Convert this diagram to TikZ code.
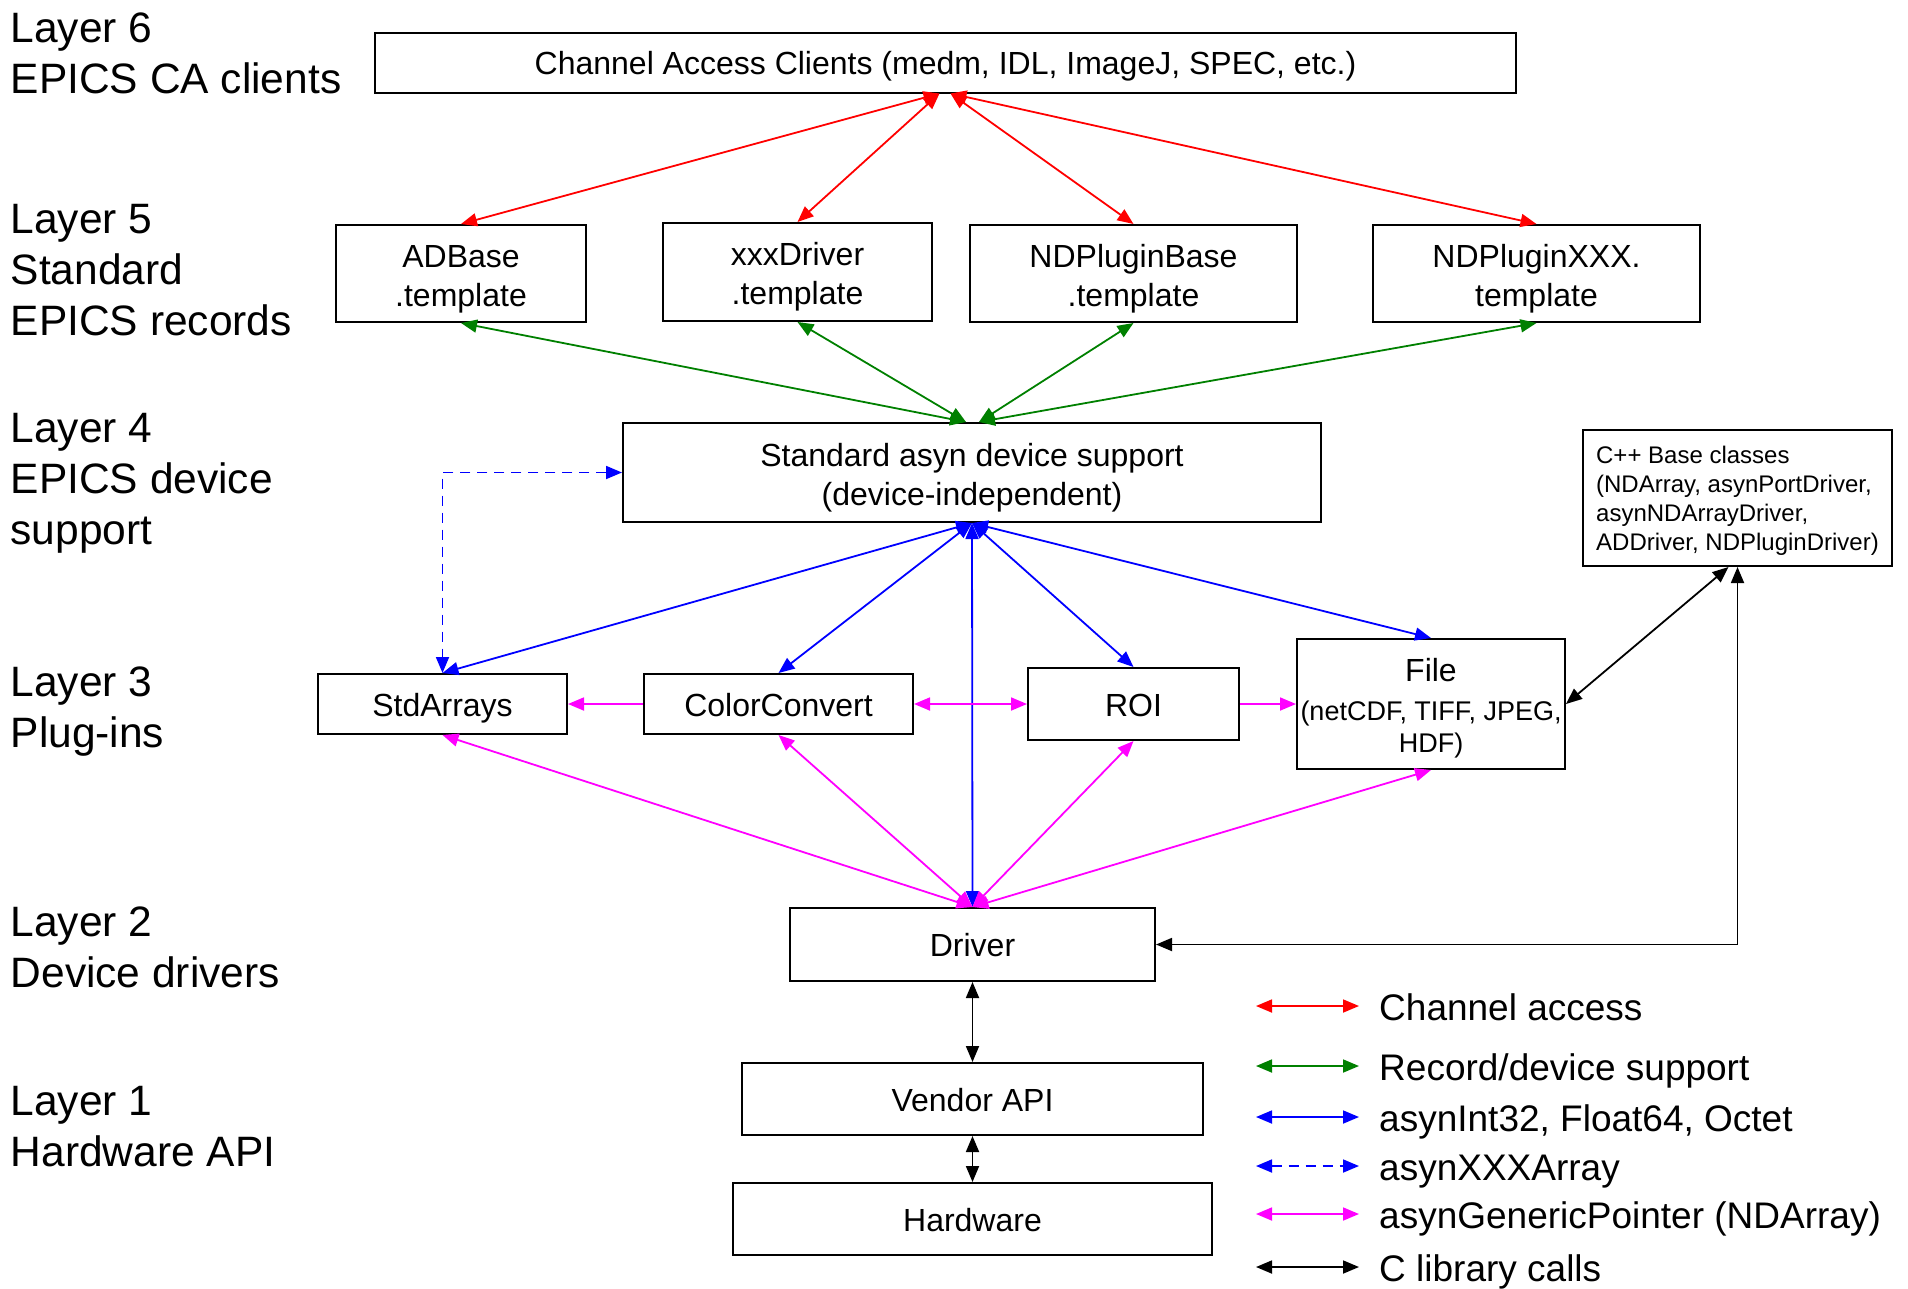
\documentclass[tikz,border=0pt]{standalone}
\usepackage{fontspec}
\setmainfont{Liberation Sans}
\usetikzlibrary{arrows.meta,positioning}
\definecolor{carred}{RGB}{255,0,0}
\definecolor{recgreen}{RGB}{0,128,0}
\definecolor{asynblue}{RGB}{0,0,255}
\definecolor{ptrmagenta}{RGB}{255,0,255}
\newcommand{\smalltxt}{\fontsize{27}{39}\selectfont}
\newcommand{\tallstrut}{\rule{0pt}{33pt}}
\tikzset{
  >={Triangle[length=16pt,width=13pt]},
  layer/.style={anchor=north west, align=left, inner sep=0pt, font=\fontsize{42.5}{51}\selectfont},
  box/.style={draw, line width=2pt, inner sep=0pt, align=center, font=\fontsize{32}{39}\selectfont},
  onebox/.style={box, text height=31pt, text depth=7pt},
  legend/.style={inner sep=0pt, font=\fontsize{37}{44}\selectfont, text height=28.5pt, text depth=0pt},
  link/.style={line width=1.8pt},
  chan/.style={link, draw=carred},
  rec/.style={link, draw=recgreen},
  asynl/.style={link, draw=asynblue},
  arr/.style={link, draw=asynblue, dash pattern=on 10pt off 7pt},
  ptr/.style={link, draw=ptrmagenta},
  clib/.style={link, draw=black}
}

\begin{document}
\begin{tikzpicture}[x=1pt,y=-1pt]
\useasboundingbox (0,0) rectangle (1908,1288);
% layer labels
\node[layer] (lay6) at (10.5,12.5) {Layer 6\\EPICS CA clients};
\node[layer] (lay5) at (10.5,204.5) {Layer 5\\Standard\\EPICS records};
\node[layer] (lay4) at (10.5,413.5) {Layer 4\\EPICS device\\support};
\node[layer] (lay3) at (10.5,666.5) {Layer 3\\Plug-ins};
\node[layer] (lay2) at (10.5,906.5) {Layer 2\\Device drivers};
\node[layer] (lay1) at (10.5,1086.5) {Layer 1\\Hardware API};

% boxes
\node[onebox, minimum width=1141pt, minimum height=59.5pt] (ca) at (945.5,62.75) {Channel Access Clients (medm, IDL, ImageJ, SPEC, etc.)};
\node[box, minimum width=250pt, minimum height=97pt] (adbase) at (461,273.5) {\tallstrut ADBase\\.template};
\node[box, minimum width=269pt, minimum height=98pt] (xxxdrv) at (797.5,272) {\tallstrut xxxDriver\\.template};
\node[box, minimum width=327pt, minimum height=97pt] (ndbase) at (1133.5,273.5) {\tallstrut NDPluginBase\\.template};
\node[box, minimum width=327pt, minimum height=97pt] (ndxxx) at (1536.5,273.5) {\tallstrut NDPluginXXX.\\template};
\node[box, minimum width=698pt, minimum height=99pt] (asyn) at (972,472.5) {\tallstrut Standard asyn device support\\(device-independent)};
\node[box, align=left, font=\fontsize{24}{28.8}\selectfont, minimum width=309pt, minimum height=136pt] (cpp) at (1737.5,498) {\rule{0pt}{22.7pt}C++ Base classes\\(NDArray, asynPortDriver,\\asynNDArrayDriver,\\ADDriver, NDPluginDriver)};
\node[onebox, minimum width=249pt, minimum height=60pt] (stdarr) at (442.5,704) {StdArrays};
\node[onebox, minimum width=269pt, minimum height=60pt] (color) at (778.5,704) {ColorConvert};
\node[onebox, minimum width=211pt, minimum height=72pt] (roi) at (1133.5,704) {ROI};
\node[box, minimum width=268pt, minimum height=130pt] (file) at (1431,704) {\rule{0pt}{32pt}File\\\smalltxt(netCDF, TIFF, JPEG,\\[-7pt]\smalltxt HDF)};
\node[onebox, minimum width=365pt, minimum height=73pt] (driver) at (972.5,944.5) {Driver};
\node[onebox, minimum width=461pt, minimum height=72pt] (vendor) at (972.5,1099) {Vendor API};
\node[onebox, minimum width=479pt, minimum height=72pt] (hardware) at (972.5,1219) {Hardware};

% channel access
\draw[chan,<->] (adbase.north) -- ([xshift=-6pt]ca.south);
\draw[chan,<->] (xxxdrv.north) -- ([xshift=-6pt]ca.south);
\draw[chan,<->] (ndbase.north) -- ([xshift=5pt]ca.south);
\draw[chan,<->] (ndxxx.north) -- ([xshift=5pt]ca.south);

% record / device support
\draw[rec,<->] (adbase.south) -- ([xshift=-6pt]asyn.north);
\draw[rec,<->] (xxxdrv.south) -- ([xshift=-6pt]asyn.north);
\draw[rec,<->] (ndbase.south) -- ([xshift=7pt]asyn.north);
\draw[rec,<->] (ndxxx.south) -- ([xshift=7pt]asyn.north);

% asyn interfaces
\draw[asynl,<->] (asyn.south) -- (stdarr.north);
\draw[asynl,<->] (asyn.south) -- (color.north);
\draw[asynl,<->] (asyn.south) -- (roi.north);
\draw[asynl,<->] (asyn.south) -- (file.north);
\draw[asynl,<->] (asyn.south) -- (driver.north);
\draw[arr,<->] (asyn.west) -| (stdarr.north);

% NDArray pointers
\draw[ptr,<->] (driver.north) -- (stdarr.south);
\draw[ptr,<->] (driver.north) -- (color.south);
\draw[ptr,<->] (driver.north) -- (roi.south);
\draw[ptr,<->] (driver.north) -- (file.south);
\draw[ptr,->] (color.west) -- (stdarr.east);
\draw[ptr,<->] (color.east) -- (roi.west);
\draw[ptr,->] (roi.east) -- (file.west);

% C library calls
\draw[clib,<->] (cpp.south) |- (driver.east);
\draw[clib,<->] ([xshift=-9pt]cpp.south) -- (file.east);
\draw[clib,<->] (driver.south) -- (vendor.north);
\draw[clib,<->] (vendor.south) -- (hardware.north);

% legend
\coordinate (lg1a) at (1256,1006); \coordinate (lg1b) at (1359,1006);
\coordinate (lg2a) at (1256,1066); \coordinate (lg2b) at (1359,1066);
\coordinate (lg3a) at (1256,1117); \coordinate (lg3b) at (1359,1117);
\coordinate (lg4a) at (1256,1166); \coordinate (lg4b) at (1359,1166);
\coordinate (lg5a) at (1256,1214); \coordinate (lg5b) at (1359,1214);
\coordinate (lg6a) at (1256,1267); \coordinate (lg6b) at (1359,1267);
\draw[chan,<->] (lg1a) -- (lg1b);
\draw[rec,<->] (lg2a) -- (lg2b);
\draw[asynl,<->] (lg3a) -- (lg3b);
\draw[arr,<->] (lg4a) -- (lg4b);
\draw[ptr,<->] (lg5a) -- (lg5b);
\draw[clib,<->] (lg6a) -- (lg6b);
\node[legend, right=20pt of lg1b] (lg1t) {Channel access};
\node[legend, right=20pt of lg2b] (lg2t) {Record/device support};
\node[legend, right=20pt of lg3b] (lg3t) {asynInt32, Float64, Octet};
\node[legend, right=20pt of lg4b] (lg4t) {asynXXXArray};
\node[legend, right=20pt of lg5b] (lg5t) {asynGenericPointer (NDArray)};
\node[legend, right=20pt of lg6b] (lg6t) {C library calls};
\end{tikzpicture}
\end{document}
